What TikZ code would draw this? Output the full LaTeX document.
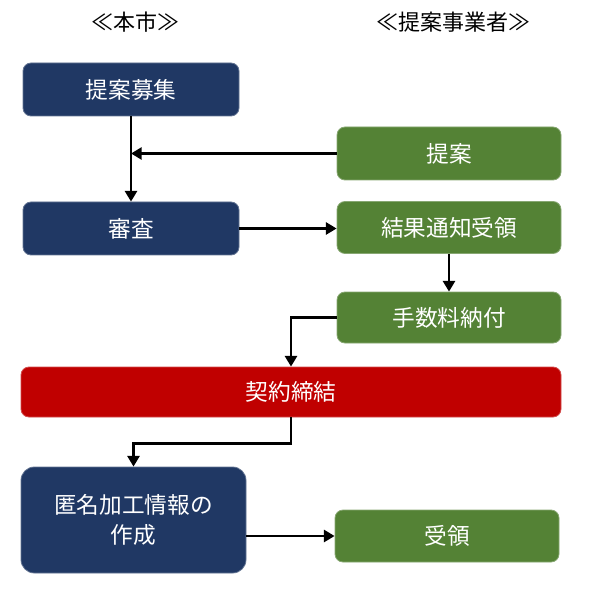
\documentclass[tikz,border=0pt]{standalone}
\usepackage{fontspec}
\setmainfont{Noto Sans CJK JP}
\usetikzlibrary{arrows.meta}
\newlength\pxu
\setlength\pxu{0.75pt}
\definecolor{navy}{HTML}{203864}
\definecolor{leaf}{HTML}{548235}
\definecolor{crimson}{HTML}{C00000}
\tikzset{
  box/.style={rectangle, rounded corners=6pt, inner sep=0pt, text=white,
    font=\fontsize{17}{22.5}\selectfont, align=center, line width=0.6pt},
  citybox/.style={box, fill=navy, draw=navy!70!white},
  firmbox/.style={box, fill=leaf, draw=leaf!70!white},
  dealbox/.style={box, fill=crimson, draw=crimson!70!white},
  head/.style={font=\fontsize{16.5}{20}\selectfont, text=black, inner sep=0pt},
  link/.style={line width=1.9pt, -{Triangle[length=8pt,width=9pt]}}
}
\begin{document}
\begin{tikzpicture}[x=0.75pt,y=-0.75pt]
\useasboundingbox (0,0) rectangle (591,605);
\node[head] (h1) at (135,22) {≪本市≫};
\node[head] (h2) at (453,22) {≪提案事業者≫};
\node[citybox, minimum width=216\pxu, minimum height=53\pxu] (boshu) at (131,89.5) {提案募集};
\node[firmbox, minimum width=224\pxu, minimum height=53\pxu] (teian) at (449,153.5) {提案};
\node[citybox, minimum width=216\pxu, minimum height=53\pxu] (shinsa) at (131,228.5) {審査};
\node[firmbox, minimum width=224\pxu, minimum height=52\pxu] (kekka) at (449,227.5) {結果通知受領};
\node[firmbox, minimum width=224\pxu, minimum height=51\pxu] (tesu) at (449,317.5) {手数料納付};
\node[dealbox, minimum width=540\pxu, minimum height=50\pxu] (keiyaku) at (291,392) {契約締結};
\node[citybox, rounded corners=10pt, minimum width=225\pxu, minimum height=106\pxu] (tokumei) at (133.5,520) {匿名加工情報の\\作成};
\node[firmbox, minimum width=224\pxu, minimum height=52\pxu] (juryo) at (447,536) {受領};
\draw[link] (boshu.south) -- (shinsa.north);
\draw[link] (teian.west) -- (teian.west -| boshu.south);
\draw[link] (shinsa.east) -- (shinsa.east -| kekka.west);
\draw[link] (kekka.south) -- (kekka.south |- tesu.north);
\draw[link] (tesu.west) -| (keiyaku.north);
\draw[link] (keiyaku.south) -- ++(0,26) -| (tokumei.north);
\draw[link] (tokumei.east |- juryo.west) -- (juryo.west);
\end{tikzpicture}
\end{document}
